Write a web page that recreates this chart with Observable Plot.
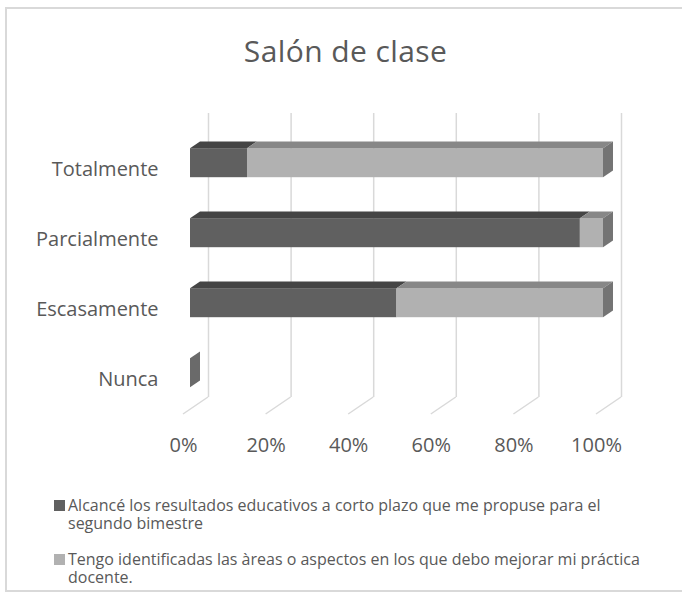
<!DOCTYPE html>
<html><head><meta charset="utf-8">
<script src="https://cdn.jsdelivr.net/npm/d3@7"></script>
<script src="https://cdn.jsdelivr.net/npm/@observablehq/plot@0.6"></script>
<style>
body{margin:0;background:#fff;font-family:"Open Sans",sans-serif;color:#595959}
#wrap{position:relative;width:682px;height:593px;overflow:hidden;background:#fff}
#frame{position:absolute;left:5px;top:7px;width:690px;height:585px;border:2px solid #d9d9d9;box-sizing:border-box}
#title{position:absolute;left:0;top:36px;width:691px;text-align:center;font-size:30px;line-height:30px;letter-spacing:0.4px}
#chart{position:absolute;left:0;top:0}
.item{position:absolute;left:54px;font-size:16px;line-height:18px}
.sw{position:absolute;left:0;top:4px;width:11px;height:11px}
.txt{position:absolute;left:14px;top:0;white-space:pre}
</style></head>
<body><div id="wrap"><div id="frame"></div><div id="title"></div><div id="chart"></div><div id="legend"></div></div>
<script>
const title = "Salón de clase";
const categories = ["Totalmente", "Parcialmente", "Escasamente", "Nunca"];
const series = [
  "Alcancé los resultados educativos a corto plazo que me propuse para el segundo bimestre",
  "Tengo identificadas las àreas o aspectos en los que debo mejorar mi práctica docente."
];
const achieved = [13.8, 94.4, 50, 0];
const identified = [86.2, 5.6, 50, 0];
const xTicks = [0, 20, 40, 60, 80, 100];
const legendBreaks = ["segundo", "docente."];

const frontColors = ["#606060", "#b1b1b1"];
const topColors = ["#454545", "#878787"];
const sideColors = ["#6a6a6a", "#747474"];
const seriesValues = [achieved, identified];

const data = categories.flatMap((c, i) => series.map((s, k) => ({cat: c, series: s, value: seriesValues[k][i]})));

const F = [7, -4.8];   // front face offset from front plane
const D = [10, -6.8];  // bar depth
const W = [25, -17];   // back wall offset

function floorMark(index, scales, values, dims) {
  const {x} = scales;
  const g = d3.create("svg:g").attr("stroke", "#d9d9d9").attr("stroke-width", 1.5);
  const yb = dims.height - dims.marginBottom;
  for (const t of xTicks) {
    g.append("line").attr("x1", x(t)).attr("y1", yb).attr("x2", x(t) + W[0]).attr("y2", yb + W[1]);
  }
  return g.node();
}

function facesMark(index, scales) {
  const {x, y} = scales;
  const g = d3.create("svg:g");
  const bw = y.bandwidth();
  categories.forEach((cat, i) => {
    const y0 = y(cat) + F[1], y1 = y0 + bw;
    let acc = 0, last = 0, lastX = x(0) + F[0];
    seriesValues.forEach((vals, s) => {
      const v = vals[i];
      const a = x(acc) + F[0], b = x(acc + v) + F[0];
      if (v > 0) {
        g.append("polygon")
          .attr("points", [[a, y0], [b, y0], [b + D[0], y0 + D[1]], [a + D[0], y0 + D[1]]].map(p => p.join(",")).join(" "))
          .attr("fill", topColors[s]);
        last = s; lastX = b;
      }
      acc += v;
    });
    g.append("polygon")
      .attr("points", [[lastX, y0], [lastX + D[0], y0 + D[1]], [lastX + D[0], y1 + D[1]], [lastX, y1]].map(p => p.join(",")).join(" "))
      .attr("fill", sideColors[last]);
  });
  return g.node();
}

const plot = Plot.plot({
  width: 682, height: 470,
  marginTop: 130, marginBottom: 56, marginLeft: 183, marginRight: 86,
  style: {fontFamily: "Open Sans", fontSize: "20px", color: "#595959", background: "transparent"},
  x: {domain: [0, 100], label: null},
  y: {domain: categories, paddingInner: 0.589, paddingOuter: 0.309, label: null},
  color: {domain: series, range: frontColors},
  marks: [
    Plot.ruleX(xTicks, {x: d => d, stroke: "#d9d9d9", strokeWidth: 1.5, dx: W[0], dy: W[1]}),
    floorMark,
    Plot.barX(data, {x: "value", y: "cat", fill: "series", dx: F[0], dy: F[1]}),
    facesMark,
    Plot.axisX({ticks: xTicks, tickFormat: d => d + "%", tickSize: 0, tickPadding: 23, fontSize: 20}),
    Plot.axisY({tickSize: 0, tickPadding: 25, fontSize: 20, dy: 2})
  ]
});
document.getElementById("chart").appendChild(plot);
document.getElementById("title").textContent = title;

const legendTops = [496, 550];
const legend = d3.select("#legend");
series.forEach((s, k) => {
  const it = legend.append("div").attr("class", "item").style("top", legendTops[k] + "px");
  it.append("div").attr("class", "sw").style("background", frontColors[k]);
  it.append("div").attr("class", "txt").text(s.replace(" " + legendBreaks[k], "\n" + legendBreaks[k]));
});
</script>
</body></html>
